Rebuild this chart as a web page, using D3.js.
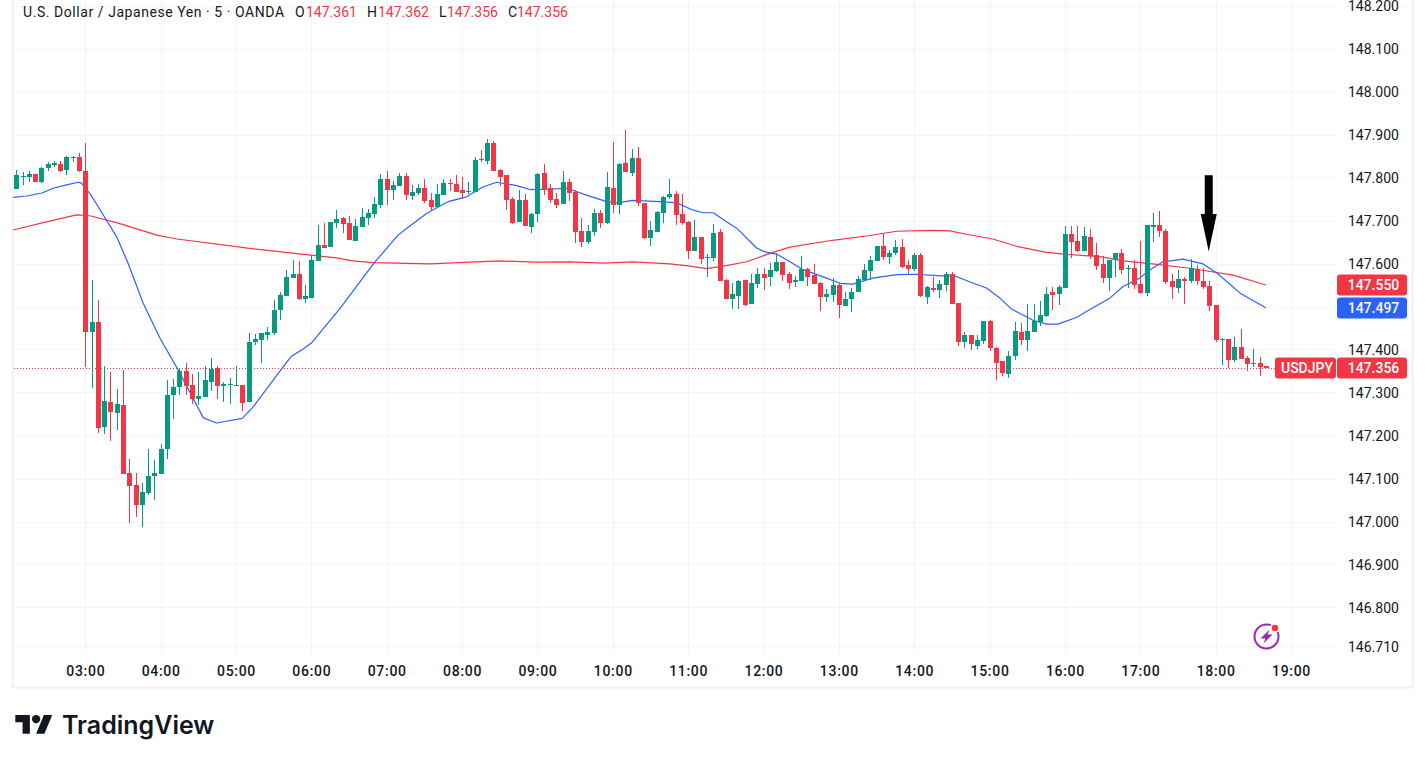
<!DOCTYPE html>
<html>
<head>
<meta charset="utf-8">
<title>USD/JPY 5 minute chart</title>
<script src="https://cdnjs.cloudflare.com/ajax/libs/d3/7.8.5/d3.min.js"></script>
<style>
  html, body { margin: 0; padding: 0; background: #fff; overflow: hidden; }
  svg { display: block; }
  text { font-family: Roboto, sans-serif; }
</style>
</head>
<body>
<svg id="chart" width="1426" height="763"></svg>
<script>
// 5 minute candles; bar 0 opens at 03:00
const firstBar = -11;
const opens = [
147.773,147.801,147.801,147.808,147.789,147.822,147.829,147.831,147.817,147.845,147.847,
147.815,147.440,147.463,147.219,147.277,147.252,147.270,147.112,147.085,147.038,147.066,147.105,147.110,147.168,147.294,147.312,147.349,147.317,147.284,147.289,147.324,147.356,147.314,147.317,147.314,147.317,
147.277,147.417,147.422,147.433,147.438,147.491,147.524,147.566,147.575,147.517,147.519,147.606,147.643,147.638,147.694,147.706,147.694,147.652,147.685,147.706,147.715,147.736,147.796,147.771,147.780,147.803,147.757,147.764,147.775,147.747,147.731,147.759,147.787,147.785,147.771,147.766,
147.766,147.843,147.838,147.880,147.817,147.806,147.750,147.696,147.747,147.685,147.715,147.810,147.775,147.750,147.738,147.789,147.766,147.675,147.650,147.673,147.717,147.694,147.775,147.736,147.834,147.810,147.845,147.740,147.659,147.673,147.717,147.754,147.761,147.715,147.696,147.629,147.661,147.613,
147.613,147.673,147.561,147.517,147.524,147.561,147.505,147.552,147.575,147.568,147.582,147.603,147.575,147.557,147.559,147.587,147.573,147.554,147.522,147.526,147.550,147.501,147.517,147.533,147.561,147.582,147.606,147.640,147.615,147.624,147.638,147.596,147.587,147.620,147.522,147.543,147.538,147.550,147.575,
147.508,147.417,147.433,147.408,147.419,147.466,147.403,147.373,147.342,147.384,147.440,147.422,147.440,147.463,147.477,147.533,147.529,147.543,147.668,147.652,147.629,147.661,147.620,147.599,147.566,147.608,147.624,147.587,147.589,147.552,147.531,147.685,147.689,147.675,147.559,147.543,147.564,147.559,147.587,147.559,147.547,147.503,147.422,147.424,147.375,147.405,147.380,147.366,147.368,147.361
];
const highs = [
147.817,147.813,147.815,147.808,147.824,147.836,147.838,147.838,147.850,147.850,147.857,
147.880,147.561,147.515,147.361,147.347,147.307,147.352,147.145,147.112,147.089,147.168,147.143,147.180,147.328,147.331,147.356,147.368,147.342,147.347,147.361,147.380,147.361,147.324,147.333,147.361,147.317,
147.438,147.436,147.438,147.452,147.515,147.533,147.585,147.608,147.606,147.550,147.620,147.689,147.694,147.696,147.724,147.708,147.710,147.703,147.729,147.726,147.754,147.808,147.815,147.792,147.810,147.810,147.782,147.785,147.796,147.764,147.785,147.796,147.796,147.806,147.801,147.789,
147.847,147.864,147.890,147.885,147.820,147.806,147.754,147.771,147.761,147.717,147.810,147.831,147.785,147.764,147.815,147.796,147.771,147.706,147.689,147.726,147.724,147.813,147.882,147.834,147.910,147.866,147.871,147.740,147.699,147.722,147.757,147.796,147.768,147.761,147.699,147.701,147.661,147.622,
147.692,147.680,147.564,147.554,147.561,147.561,147.575,147.589,147.589,147.601,147.624,147.603,147.580,147.571,147.617,147.589,147.599,147.557,147.540,147.566,147.554,147.533,147.543,147.571,147.599,147.617,147.640,147.671,147.631,147.654,147.657,147.608,147.624,147.624,147.547,147.568,147.561,147.580,147.580,
147.508,147.440,147.433,147.433,147.466,147.468,147.405,147.373,147.396,147.463,147.461,147.505,147.505,147.512,147.545,147.545,147.550,147.687,147.687,147.687,147.685,147.680,147.647,147.617,147.608,147.624,147.633,147.596,147.608,147.652,147.689,147.717,147.722,147.680,147.575,147.585,147.568,147.610,147.596,147.589,147.559,147.503,147.426,147.424,147.429,147.447,147.384,147.401,147.382,147.362
];
const lows = [
147.773,147.782,147.789,147.789,147.787,147.815,147.824,147.813,147.806,147.836,147.813,
147.359,147.310,147.205,147.203,147.187,147.212,147.110,146.996,147.010,146.987,147.061,147.050,147.110,147.145,147.238,147.294,147.294,147.273,147.270,147.289,147.303,147.284,147.277,147.273,147.314,147.256,
147.277,147.410,147.368,147.422,147.433,147.468,147.524,147.566,147.515,147.508,147.519,147.606,147.636,147.638,147.682,147.671,147.654,147.652,147.685,147.689,147.706,147.729,147.736,147.747,147.780,147.747,147.747,147.759,147.740,147.722,147.731,147.759,147.768,147.766,147.750,147.761,
147.766,147.836,147.831,147.815,147.780,147.724,147.692,147.696,147.687,147.671,147.696,147.759,147.740,147.729,147.738,147.745,147.647,147.638,147.645,147.664,147.682,147.692,147.717,147.715,147.813,147.803,147.733,147.657,147.640,147.673,147.694,147.750,147.689,147.689,147.610,147.629,147.599,147.568,
147.606,147.559,147.517,147.494,147.494,147.501,147.505,147.543,147.538,147.547,147.580,147.559,147.540,147.545,147.559,147.547,147.552,147.489,147.510,147.510,147.473,147.501,147.487,147.533,147.561,147.561,147.606,147.608,147.599,147.620,147.589,147.575,147.582,147.522,147.505,147.533,147.519,147.536,147.505,
147.408,147.403,147.398,147.401,147.412,147.396,147.328,147.338,147.333,147.375,147.410,147.396,147.440,147.454,147.475,147.491,147.503,147.543,147.613,147.626,147.629,147.610,147.585,147.554,147.536,147.568,147.575,147.543,147.540,147.529,147.524,147.650,147.661,147.552,147.517,147.531,147.505,147.554,147.550,147.540,147.489,147.417,147.363,147.356,147.370,147.377,147.349,147.359,147.338,147.356
];
const closes = [
147.806,147.803,147.808,147.789,147.822,147.831,147.834,147.815,147.847,147.847,147.815,
147.440,147.463,147.217,147.280,147.254,147.273,147.110,147.082,147.038,147.068,147.105,147.112,147.168,147.294,147.312,147.349,147.314,147.284,147.291,147.328,147.354,147.314,147.319,147.319,147.317,147.275,
147.417,147.424,147.438,147.440,147.491,147.526,147.568,147.575,147.517,147.524,147.608,147.643,147.636,147.696,147.703,147.692,147.654,147.687,147.708,147.717,147.738,147.796,147.771,147.782,147.803,147.759,147.766,147.775,147.745,147.731,147.761,147.787,147.785,147.766,147.764,147.768,
147.841,147.841,147.880,147.815,147.801,147.747,147.694,147.747,147.687,147.715,147.808,147.773,147.747,147.736,147.789,147.764,147.673,147.650,147.675,147.717,147.694,147.778,147.736,147.831,147.813,147.845,147.740,147.659,147.678,147.720,147.754,147.761,147.713,147.694,147.629,147.661,147.610,147.615,
147.671,147.559,147.517,147.529,147.559,147.503,147.554,147.575,147.566,147.585,147.603,147.573,147.554,147.561,147.587,147.568,147.552,147.522,147.529,147.550,147.503,147.517,147.533,147.564,147.585,147.608,147.640,147.615,147.624,147.638,147.592,147.587,147.620,147.524,147.545,147.538,147.552,147.575,147.505,
147.417,147.433,147.412,147.422,147.466,147.403,147.368,147.345,147.384,147.443,147.422,147.443,147.466,147.480,147.529,147.526,147.545,147.668,147.650,147.629,147.664,147.617,147.594,147.566,147.608,147.624,147.585,147.589,147.550,147.531,147.689,147.689,147.675,147.557,147.545,147.564,147.559,147.589,147.559,147.545,147.501,147.422,147.424,147.375,147.405,147.377,147.366,147.368,147.359,147.356
];

// Moving averages, read at the listed bar positions
const blueBars = [-11.5,-9.3,-6.9,-5.1,-3,-1.1,-0.6,1,5,6.8,9.2,11.9,14.8,18.8,20.9,25,26.7,32.1,32.9,34.7,36,40.6,44.8,46.1,49.8,51.2,54.4,57.8,60.7,63.3,65.5,68.7,70.8,74,76.7,79.8,82.8,84.6,87.2,91.5,94.2,96.8,98.4,100,102.1,103.9,106.9,108.2,110.1,112.2,114.1,117.5,120.2,122.2,125.4,129.2,132.4,136.1,138.5,140.9,143.5,145.7,147.5,150.9,153.1,154.9,157.9,160.1,163.2,165.2,167.9,169.5,171.6,174.8,178,180.2,183.9,188];
const blueValues = [147.754,147.757,147.764,147.775,147.783,147.789,147.787,147.757,147.662,147.601,147.508,147.426,147.352,147.241,147.229,147.240,147.266,147.371,147.385,147.401,147.415,147.496,147.578,147.603,147.666,147.682,147.717,147.744,147.755,147.778,147.789,147.781,147.772,147.773,147.775,147.759,147.745,147.741,147.747,147.744,147.741,147.724,147.718,147.718,147.697,147.680,147.636,147.627,147.622,147.604,147.587,147.569,147.554,147.552,147.566,147.574,147.575,147.571,147.571,147.557,147.543,147.519,147.494,147.468,147.459,147.459,147.475,147.494,147.520,147.546,147.566,147.585,147.604,147.610,147.599,147.578,147.531,147.497];
const redBars = [-11.5,-6.7,-1.4,0.7,5,11.4,14.6,26.2,33,40,42.6,45.8,54.9,61.3,66,71.9,77.2,82.4,87.2,93.1,96.3,98.9,102.1,105.3,109.5,112.2,119,124.4,129.2,134.5,137.7,140.3,144.5,148.3,153.1,156.3,161.6,165.2,170.6,175.9,182.8,188];
const redValues = [147.678,147.695,147.713,147.711,147.695,147.666,147.657,147.635,147.624,147.613,147.606,147.602,147.599,147.603,147.606,147.603,147.604,147.601,147.604,147.599,147.594,147.588,147.595,147.604,147.626,147.638,147.654,147.664,147.675,147.677,147.676,147.668,147.657,147.640,147.626,147.621,147.616,147.606,147.598,147.589,147.573,147.550];

// Axis ticks
const priceTicks = [148.2,148.1,148.0,147.9,147.8,147.7,147.6,147.5,147.4,147.3,147.2,147.1,147.0,146.9,146.8,146.71];
const hourBars = [0,12,24,36,48,60,72,84,96,108,120,132,144,156,168,180,192];
const hourLabels = ["03:00","04:00","05:00","06:00","07:00","08:00","09:00","10:00","11:00","12:00","13:00","14:00","15:00","16:00","17:00","18:00","19:00"];

// Header and last-value tags
const titleText = "U.S. Dollar / Japanese Yen · 5 · OANDA";
const ohlcLetters = ["O","H","L","C"];
const ohlcValues = ["147.361","147.362","147.356","147.356"];
const symbolName = "USDJPY";
const lastPrice = 147.356, redLast = 147.550, blueLast = 147.497;
// Down arrow annotation: bar position, tip price and tail price
const arrowBar = 178.9, arrowTip = 147.628, arrowTail = 147.805;

const GREEN = "#089981", RED = "#F23645", BLUE = "#2962FF", GRID = "#f3f4f7", FRAME = "#eff1f5", INK = "#131722";

const svg = d3.select("#chart");
const plot = { left: 13, right: 1336, top: 0, bottom: 653 };

const x = d3.scaleLinear().domain([0, 192]).range([85.3, 1291]);
const y = d3.scaleLinear().domain([147.9, 147.0]).range([134.5, 521.5]);

// Outer frame
svg.append("path")
  .attr("d", "M12.5,0V687.5H1412.5V0")
  .attr("fill", "none").attr("stroke", FRAME).attr("stroke-width", 2);

// Grid lines
const grid = svg.append("g");
grid.selectAll("line.h").data(priceTicks).join("line")
  .attr("x1", plot.left).attr("x2", plot.right)
  .attr("y1", d => Math.round(y(d)) + 0.5).attr("y2", d => Math.round(y(d)) + 0.5)
  .attr("stroke", GRID);
grid.selectAll("line.v").data(hourBars).join("line")
  .attr("x1", d => Math.round(x(d)) + 0.5).attr("x2", d => Math.round(x(d)) + 0.5)
  .attr("y1", plot.top).attr("y2", plot.bottom)
  .attr("stroke", GRID);

// Last price marker line
svg.append("line")
  .attr("x1", plot.left + 1).attr("x2", 1275)
  .attr("y1", Math.round(y(lastPrice)) + 0.5).attr("y2", Math.round(y(lastPrice)) + 0.5)
  .attr("stroke", RED).attr("stroke-dasharray", "1 2");

// Moving averages
function drawAverage(bars, values, colour) {
  const line = d3.line().x(d => x(d[0])).y(d => y(d[1]));
  svg.append("path").datum(d3.zip(bars, values))
    .attr("d", line).attr("fill", "none").attr("stroke", colour).attr("stroke-width", 1.2)
    .attr("stroke-linejoin", "round");
}
drawAverage(redBars, redValues, RED);
drawAverage(blueBars, blueValues, BLUE);

// Candles
const candles = opens.map((o, i) => ({ bar: firstBar + i, o, h: highs[i], l: lows[i], c: closes[i] }));
const colourOf = d => d.c >= d.o ? GREEN : RED;
const cg = svg.append("g");
const candle = cg.selectAll("g").data(candles).join("g").attr("fill", colourOf);
candle.append("rect")
  .attr("x", d => Math.round(x(d.bar)))
  .attr("width", 1)
  .attr("y", d => Math.round(y(d.h)))
  .attr("height", d => Math.max(1, Math.round(y(d.l)) - Math.round(y(d.h))));
candle.append("rect")
  .attr("x", d => Math.round(x(d.bar)) - 2)
  .attr("width", 5)
  .attr("y", d => Math.round(y(Math.max(d.o, d.c))))
  .attr("height", d => Math.max(1, Math.round(y(Math.min(d.o, d.c))) - Math.round(y(Math.max(d.o, d.c)))));

// Price scale
const priceAxis = d3.axisRight(y).tickValues(priceTicks).tickSize(0).tickPadding(0)
  .tickFormat(d3.format(".3f"));
const pa = svg.append("g").attr("transform", "translate(1348,1)").call(priceAxis);
pa.select(".domain").remove();
pa.selectAll("text").attr("font-family", "Roboto, sans-serif").attr("font-size", 14).attr("fill", INK);

// Time scale
const timeAxis = d3.axisBottom(x).tickValues(hourBars).tickSize(0).tickPadding(0)
  .tickFormat((d, i) => hourLabels[i]);
const ta = svg.append("g").attr("transform", "translate(0,666)").call(timeAxis);
ta.select(".domain").remove();
ta.selectAll("text").attr("font-family", "Roboto, sans-serif").attr("font-size", 14).attr("font-weight", 500)
  .attr("letter-spacing", 0.7).attr("fill", INK);

// Value tags on the price scale
function tag(x0, width, price, colour, label) {
  const cy = Math.round(y(price));
  svg.append("rect").attr("x", x0).attr("y", cy - 10.5).attr("width", width).attr("height", 21)
    .attr("rx", 3).attr("fill", colour);
  svg.append("text").attr("x", x0 + width / 2 + 1.5).attr("y", cy + 5)
    .attr("text-anchor", "middle").attr("font-size", 14).attr("font-weight", 500)
    .attr("fill", "#fff").text(label);
}
tag(1337, 70, redLast, RED, d3.format(".3f")(redLast));
tag(1337, 70, blueLast, BLUE, d3.format(".3f")(blueLast));
tag(1275, 61, lastPrice, RED, symbolName);
tag(1337, 70, lastPrice, RED, d3.format(".3f")(lastPrice));

// Header line
const head = svg.append("g").attr("font-size", 14);
head.append("text").attr("x", 23).attr("y", 17).attr("fill", INK).attr("letter-spacing", 0.56).text(titleText);
const letterX = [295, 367, 439, 508], valueX = [306, 378, 447, 517];
ohlcLetters.forEach((s, i) => {
  head.append("text").attr("x", letterX[i]).attr("y", 17).attr("fill", INK).text(s);
  head.append("text").attr("x", valueX[i]).attr("y", 17).attr("fill", RED).text(ohlcValues[i]);
});

// Arrow annotation
const ax = x(arrowBar), tipY = y(arrowTip), tailY = y(arrowTail), neckY = tipY - 37.5;
svg.append("path").attr("fill", "#000")
  .attr("d", `M${ax - 4},${tailY}H${ax + 4}V${neckY}H${ax + 8}L${ax},${tipY}L${ax - 8},${neckY}H${ax - 4}Z`);

// Bolt badge near the plot corner
const badge = svg.append("g").attr("transform", "translate(1266.5,636.5)");
badge.append("circle").attr("r", 12).attr("fill", "#fff").attr("stroke", "#9C27B0").attr("stroke-width", 2);
badge.append("path").attr("fill", "#9C27B0").attr("d", "M3,-7L-6,2H-1L-3,7L6,-2H1Z");
badge.append("circle").attr("cx", 8.5).attr("cy", -8.5).attr("r", 5).attr("fill", "#fff");
badge.append("circle").attr("cx", 8.5).attr("cy", -8.5).attr("r", 3.3).attr("fill", RED);

// Brand mark
const brand = svg.append("g");
brand.append("g").attr("transform", "translate(15.3,710.8) scale(1.04)").call(g => {
  g.append("path").attr("d", "M14 22H7V11H0V4h14v18zM28 22h-8l7.5-18h8L28 22z").attr("fill", INK);
  g.append("circle").attr("cx", 20).attr("cy", 8).attr("r", 4).attr("fill", INK);
});
brand.append("text").attr("x", 62).attr("y", 734).attr("font-size", 25).attr("font-weight", 600)
  .style("font-family", "Inter, sans-serif").attr("fill", INK).text("TradingView");
</script>
</body>
</html>
